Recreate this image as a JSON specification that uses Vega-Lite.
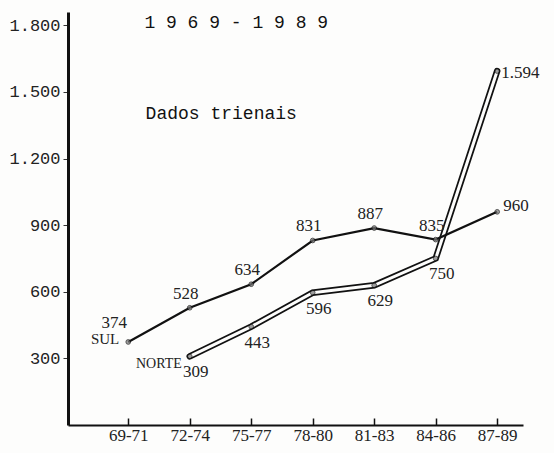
{
  "$schema": "https://vega.github.io/schema/vega-lite/v6.json",
  "width": 455,
  "height": 413,
  "autosize": {"type": "none"},
  "padding": {"left": 68, "top": 12, "right": 31, "bottom": 28},
  "background": "#fdfdfc",
  "config": {
    "view": {"stroke": null},
    "locale": {"number": {"decimal": ",", "thousands": ".", "grouping": [3], "currency": ["R$", ""]}}
  },
  "datasets": {
    "series": [
      {"periodo": "69-71", "regiao": "SUL", "valor": 374},
      {"periodo": "72-74", "regiao": "SUL", "valor": 528},
      {"periodo": "75-77", "regiao": "SUL", "valor": 634},
      {"periodo": "78-80", "regiao": "SUL", "valor": 831},
      {"periodo": "81-83", "regiao": "SUL", "valor": 887},
      {"periodo": "84-86", "regiao": "SUL", "valor": 835},
      {"periodo": "87-89", "regiao": "SUL", "valor": 960},
      {"periodo": "72-74", "regiao": "NORTE", "valor": 309},
      {"periodo": "75-77", "regiao": "NORTE", "valor": 443},
      {"periodo": "78-80", "regiao": "NORTE", "valor": 596},
      {"periodo": "81-83", "regiao": "NORTE", "valor": 629},
      {"periodo": "84-86", "regiao": "NORTE", "valor": 750},
      {"periodo": "87-89", "regiao": "NORTE", "valor": 1594}
    ],
    "notas": [
      {"texto": "1 9 6 9 - 1 9 8 9", "periodo": "75-77", "valor": 1810},
      {"texto": "Dados trienais", "periodo": "75-77", "valor": 1400}
    ]
  },
  "data": {"name": "series"},
  "encoding": {
    "x": {
      "field": "periodo", "type": "ordinal",
      "scale": {"type": "point", "domain": ["69-71", "72-74", "75-77", "78-80", "81-83", "84-86", "87-89"], "padding": 0.7, "align": 0.7},
      "axis": {
        "title": null, "labelAngle": 0, "domainColor": "#111", "domainWidth": 2,
        "tickColor": "#111", "tickSize": -7, "tickWidth": 1.5, "labelPadding": 9,
        "labelFont": "Liberation Serif", "labelFontSize": 17, "labelColor": "#222"
      }
    },
    "y": {
      "field": "valor", "type": "quantitative",
      "scale": {"domain": [0, 1860], "nice": false},
      "axis": {
        "title": null, "values": [300, 600, 900, 1200, 1500, 1800], "grid": false,
        "domainColor": "#111", "domainWidth": 3, "tickColor": "#333", "tickSize": 5,
        "labelPadding": 3, "labelFont": "Liberation Mono", "labelFontSize": 17, "labelColor": "#222"
      }
    }
  },
  "layer": [
    {"transform": [{"filter": "datum.regiao == 'NORTE'"}], "mark": {"type": "line", "color": "#111", "strokeWidth": 6.5, "strokeCap": "round"}},
    {"transform": [{"filter": "datum.regiao == 'NORTE'"}], "mark": {"type": "line", "color": "#fdfdfc", "strokeWidth": 3, "strokeCap": "round"}},
    {"transform": [{"filter": "datum.regiao == 'SUL'"}], "mark": {"type": "line", "color": "#111", "strokeWidth": 2.2}},
    {"mark": {"type": "point", "filled": true, "color": "#777", "stroke": "#111", "strokeWidth": 1, "size": 22}},
    {"transform": [{"filter": "datum.regiao == 'SUL' && datum.periodo != '69-71' && datum.periodo != '87-89'"}],
     "mark": {"type": "text", "font": "Liberation Serif", "fontSize": 17, "color": "#222", "dy": -14, "dx": -4},
     "encoding": {"text": {"field": "valor", "type": "quantitative", "format": ",d"}}},
    {"transform": [{"filter": "datum.regiao == 'SUL' && datum.periodo == '69-71'"}],
     "mark": {"type": "text", "font": "Liberation Serif", "fontSize": 17, "color": "#222", "dy": -19, "dx": -14},
     "encoding": {"text": {"field": "valor", "type": "quantitative", "format": ",d"}}},
    {"transform": [{"filter": "datum.regiao == 'SUL' && datum.periodo == '69-71'"}],
     "mark": {"type": "text", "font": "Liberation Serif", "fontSize": 15, "color": "#222", "align": "right", "dx": -9, "dy": -3},
     "encoding": {"text": {"field": "regiao"}}},
    {"transform": [{"filter": "datum.regiao == 'SUL' && datum.periodo == '87-89'"}],
     "mark": {"type": "text", "font": "Liberation Serif", "fontSize": 17, "color": "#222", "align": "left", "dx": 6, "dy": -6},
     "encoding": {"text": {"field": "valor", "type": "quantitative", "format": ",d"}}},
    {"transform": [{"filter": "datum.regiao == 'NORTE' && datum.periodo != '87-89'"}],
     "mark": {"type": "text", "font": "Liberation Serif", "fontSize": 17, "color": "#222", "dy": 16, "dx": 6},
     "encoding": {"text": {"field": "valor", "type": "quantitative", "format": ",d"}}},
    {"transform": [{"filter": "datum.regiao == 'NORTE' && datum.periodo == '72-74'"}],
     "mark": {"type": "text", "font": "Liberation Serif", "fontSize": 14, "color": "#222", "align": "right", "dx": -8, "dy": 8},
     "encoding": {"text": {"field": "regiao"}}},
    {"transform": [{"filter": "datum.regiao == 'NORTE' && datum.periodo == '87-89'"}],
     "mark": {"type": "text", "font": "Liberation Serif", "fontSize": 17, "color": "#222", "align": "left", "dx": 4, "dy": 2},
     "encoding": {"text": {"field": "valor", "type": "quantitative", "format": ",d"}}},
    {"data": {"name": "notas"}, "transform": [{"filter": "datum.texto == '1 9 6 9 - 1 9 8 9'"}],
     "mark": {"type": "text", "font": "Liberation Mono", "fontSize": 18, "color": "#111", "align": "center", "dx": -15},
     "encoding": {"text": {"field": "texto"}}},
    {"data": {"name": "notas"}, "transform": [{"filter": "datum.texto == 'Dados trienais'"}],
     "mark": {"type": "text", "font": "Liberation Mono", "fontSize": 18, "color": "#111", "align": "center", "dx": -30},
     "encoding": {"text": {"field": "texto"}}}
  ]
}
